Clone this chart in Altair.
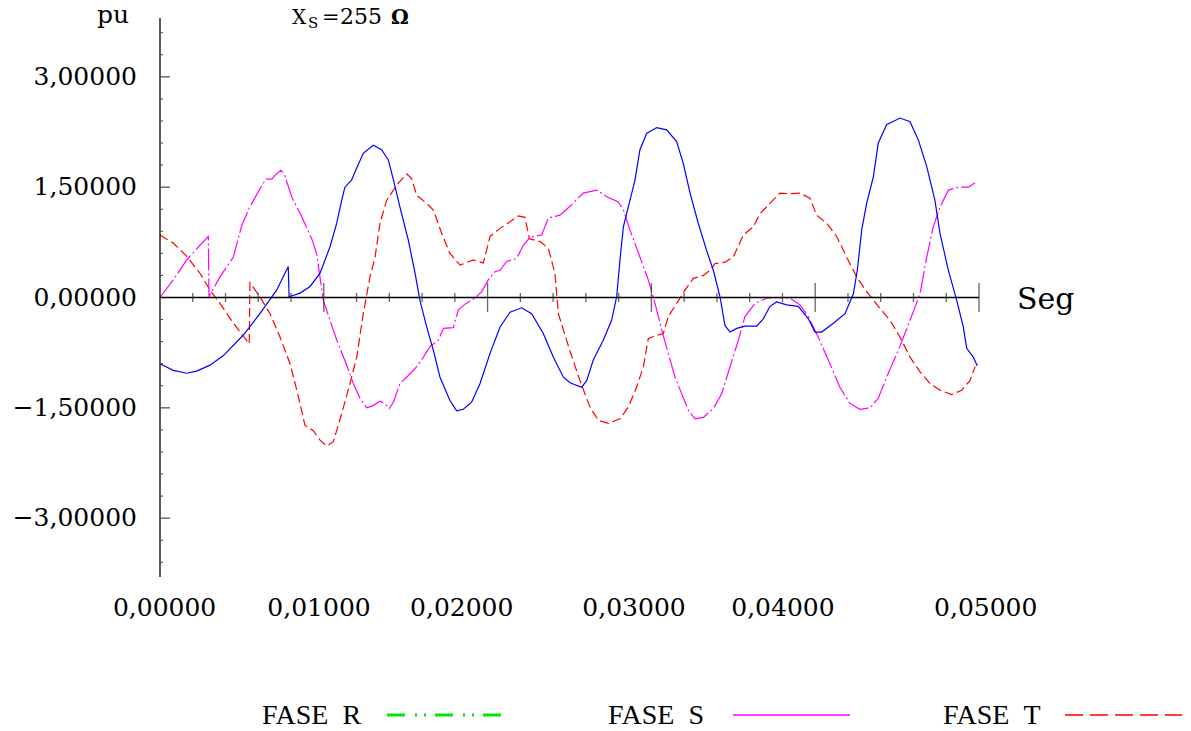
import altair as alt
import pandas as pd

# ---------------- data (time in ms as read, values in pu) ----------------
t_r_ms = [0, 0.81, 1.63, 2.24, 3.05, 3.87, 5.09, 6.10, 7.12, 7.83, 7.88, 8.55, 9.16, 9.77, 10.38,
          10.79, 11.09, 11.29, 11.70, 12.01, 12.41, 13.02, 13.53, 13.94, 14.25, 14.65, 15.16, 15.57,
          15.87, 16.28, 16.69, 17.09, 17.70, 18.11, 18.52, 19.03, 19.54, 20.15, 20.76, 21.37, 22.08,
          22.69, 23.40, 24.01, 24.62, 25.03, 25.74, 26.05, 26.45, 27.06, 27.57, 27.88, 28.08, 28.29,
          28.69, 29.00, 29.30, 29.71, 30.32, 30.93, 31.54, 31.95, 32.36, 32.86, 33.37, 33.78, 34.19,
          34.49, 34.80, 35.21, 35.71, 36.43, 36.83, 37.24, 37.65, 38.26, 38.97, 39.58, 39.99, 40.39,
          41.11, 41.82, 42.33, 42.57, 42.84, 43.14, 43.55, 43.85, 44.36, 45.18, 45.79, 46.30, 46.81,
          47.31, 47.62, 48.13, 48.64, 49.04, 49.25, 49.65, 49.90]
v_r = [-0.90, -0.99, -1.03, -1.00, -0.92, -0.79, -0.51, -0.22, 0.10, 0.42, 0.01, 0.06, 0.15, 0.33, 0.69,
       1.01, 1.32, 1.50, 1.60, 1.76, 1.96, 2.07, 2.01, 1.87, 1.60, 1.23, 0.78, 0.33,
       -0.04, -0.40, -0.72, -1.08, -1.40, -1.54, -1.52, -1.42, -1.17, -0.76, -0.40, -0.20, -0.14,
       -0.22, -0.49, -0.81, -1.08, -1.16, -1.22, -1.13, -0.85, -0.58, -0.31, 0.01, 0.51, 0.96,
       1.32, 1.60, 2.01, 2.23, 2.31, 2.28, 2.12, 1.82, 1.42, 1.01, 0.64, 0.37, 0.01,
       -0.38, -0.47, -0.42, -0.39, -0.39, -0.29, -0.12, -0.06, -0.10, -0.12, -0.29, -0.47, -0.47,
       -0.35, -0.22, 0.05, 0.37, 0.92, 1.28, 1.64, 2.10, 2.35, 2.44, 2.39, 2.14, 1.78,
       1.32, 0.87, 0.37, -0.04, -0.40, -0.69, -0.81, -0.93]

t_s_ms = [0, 0.81, 1.63, 2.44, 2.95, 2.99, 3.66, 4.48, 4.99, 5.49, 6.00, 6.47, 6.82, 7.02, 7.37, 7.57,
          8.04, 8.65, 9.26, 9.56, 9.97, 10.38, 10.79, 11.40, 11.80, 12.21, 12.62, 13.02, 13.43, 13.74,
          14.00, 14.25, 14.65, 15.16, 15.67, 16.08, 16.48, 16.99, 17.30, 17.91, 18.21, 18.62, 19.23,
          19.64, 20.04, 20.45, 20.76, 21.16, 21.77, 22.18, 22.59, 23.30, 23.71, 24.42, 25.03, 25.84,
          26.66, 27.27, 27.98, 28.29, 28.69, 29.30, 29.81, 30.22, 30.63, 31.03, 31.44, 31.85, 32.25,
          32.66, 33.17, 33.78, 34.29, 34.80, 35.31, 35.71, 36.33, 37.04, 37.65, 38.46, 39.07, 39.58,
          40.19, 40.80, 41.51, 42.12, 42.73, 43.35, 43.85, 44.46, 45.07, 45.79, 46.40, 46.81, 47.21,
          47.62, 48.13, 48.74, 49.35, 49.76]
v_s = [0, 0.24, 0.51, 0.71, 0.83, 0.01, 0.28, 0.55, 0.98, 1.23, 1.44, 1.61, 1.61, 1.66, 1.73, 1.69,
       1.37, 1.10, 0.80, 0.60, -0.04, -0.31, -0.58, -0.92, -1.17, -1.37, -1.50, -1.47, -1.41, -1.45,
       -1.51, -1.42, -1.17, -1.06, -0.94, -0.81, -0.67, -0.58, -0.42, -0.41, -0.17, -0.09, -0.01,
       0.08, 0.24, 0.35, 0.37, 0.49, 0.53, 0.71, 0.82, 0.85, 1.08, 1.12, 1.24, 1.42,
       1.46, 1.37, 1.30, 1.19, 0.92, 0.55, 0.24, -0.08, -0.44, -0.76, -1.08, -1.31, -1.53,
       -1.65, -1.63, -1.51, -1.31, -0.94, -0.58, -0.26, -0.08, -0.01, 0.00, -0.01, -0.10, -0.26,
       -0.54, -0.85, -1.22, -1.44, -1.52, -1.50, -1.37, -1.03, -0.72, -0.31, 0.05, 0.55, 0.96,
       1.23, 1.46, 1.50, 1.50, 1.56]

t_t_ms = [0, 0.81, 1.63, 2.44, 3.05, 3.66, 4.48, 5.45, 5.49, 6.10, 6.72, 7.33, 7.94, 8.45, 8.85, 9.36,
          9.77, 10.18, 10.58, 11.09, 11.60, 12.01, 12.41, 12.82, 13.13, 13.43, 13.84, 14.45, 15.06,
          15.36, 15.67, 16.28, 16.69, 17.20, 17.70, 18.32, 19.13, 19.74, 20.15, 20.76, 21.37, 21.88,
          22.28, 22.55, 23.20, 23.71, 24.11, 24.32, 25.03, 25.64, 26.25, 26.76, 27.37, 28.08, 28.59,
          29.10, 29.51, 29.81, 30.22, 30.73, 31.03, 31.54, 32.05, 32.56, 33.17, 33.58, 33.88, 34.49,
          35.00, 35.61, 36.22, 36.63, 37.24, 37.85, 38.46, 39.07, 39.68, 40.09, 40.70, 41.31, 41.92,
          42.53, 43.14, 43.96, 44.57, 45.18, 45.79, 46.40, 47.01, 47.62, 48.33, 48.94, 49.45, 49.76]
v_t = [0.85, 0.74, 0.56, 0.33, 0.10, -0.08, -0.35, -0.63, 0.20, 0.01, -0.22, -0.54, -0.90, -1.35, -1.74, -1.81,
       -1.94, -2.02, -1.96, -1.58, -1.17, -0.81, -0.22, 0.28, 0.55, 1.01, 1.32, 1.53, 1.68,
       1.62, 1.39, 1.28, 1.19, 0.87, 0.60, 0.44, 0.51, 0.47, 0.83, 0.94, 1.03, 1.11,
       1.09, 0.80, 0.76, 0.67, 0.33, -0.22, -0.73, -1.13, -1.49, -1.67, -1.71, -1.65, -1.49,
       -1.22, -0.94, -0.56, -0.52, -0.49, -0.26, -0.08, 0.10, 0.26, 0.30, 0.37, 0.46, 0.48,
       0.55, 0.85, 0.96, 1.14, 1.28, 1.42, 1.41, 1.42, 1.35, 1.12, 1.01, 0.83, 0.55,
       0.28, 0.08, -0.15, -0.31, -0.54, -0.81, -1.01, -1.17, -1.26, -1.32, -1.26, -1.13, -0.94]

# axis ticks and labels
x_major_ticks = [0.01, 0.02, 0.03, 0.04, 0.05]
x_minor_ticks = [0.002, 0.004, 0.006, 0.008, 0.012, 0.014, 0.016, 0.018, 0.022, 0.024, 0.026, 0.028,
                 0.032, 0.034, 0.036, 0.038, 0.042, 0.044, 0.046, 0.048]
x_label_text = ["0,00000", "0,01000", "0,02000", "0,03000", "0,04000", "0,05000"]
x_label_pos = [0.00028, 0.00971, 0.01842, 0.02894, 0.03803, 0.05041]   # as placed in the picture
y_major_ticks = [-3.0, -1.5, 1.5, 3.0]
y_minor_ticks = [-3.6, -3.3, -2.7, -2.4, -2.1, -1.8, -1.2, -0.9, -0.6, -0.3,
                 0.3, 0.6, 0.9, 1.2, 1.8, 2.1, 2.4, 2.7, 3.3, 3.6]
y_label_val = [3.0, 1.5, 0.0, -1.5, -3.0]
y_label_text = ["3,00000", "1,50000", "0,00000", "\u22121,50000", "\u22123,00000"]

assert len(t_r_ms) == len(v_r) and len(t_s_ms) == len(v_s) and len(t_t_ms) == len(v_t)

W, H = 819, 559
xs = alt.Scale(domain=[0, 0.05], nice=False, zero=False)
ys = alt.Scale(domain=[-3.8, 3.8], nice=False, zero=False)
SERIF = "DejaVu Serif"


def series(t_ms, v):
    return pd.DataFrame({"t": [x / 1000 for x in t_ms], "v": v, "i": list(range(len(v)))})


def X(f="t"):
    return alt.X(f + ":Q", scale=xs, axis=None)


def Y(f="v"):
    return alt.Y(f + ":Q", scale=ys, axis=None)


blue = alt.Chart(series(t_r_ms, v_r)).mark_line(color="#0000ff", strokeWidth=1.2).encode(
    x=X(), y=Y(), order="i:Q")
magenta = alt.Chart(series(t_s_ms, v_s)).mark_line(
    color="#ff00ff", strokeWidth=1.2, strokeDash=[22, 3, 2, 3]).encode(x=X(), y=Y(), order="i:Q")
red = alt.Chart(series(t_t_ms, v_t)).mark_line(
    color="#ff0000", strokeWidth=1.2, strokeDash=[9, 4]).encode(x=X(), y=Y(), order="i:Q")

one = pd.DataFrame({"v": [0.0]})
y_axis = alt.Chart(one).mark_rule(color="black", strokeWidth=1.3).encode(
    x=alt.value(0), y=alt.value(0), y2=alt.value(H))
x_axis = alt.Chart(one).mark_rule(color="black", strokeWidth=1.6).encode(
    x=alt.value(0), x2=alt.value(W), y=Y())

xmaj = alt.Chart(pd.DataFrame({"t": x_major_ticks, "v": [0.0] * len(x_major_ticks)})).mark_tick(
    orient="vertical", size=29, thickness=1.3, color="#222").encode(x=X(), y=Y())
xmin = alt.Chart(pd.DataFrame({"t": x_minor_ticks, "v": [0.0] * len(x_minor_ticks)})).mark_tick(
    orient="vertical", size=9, thickness=1.3, color="#222").encode(x=X(), y=Y())
ymaj = alt.Chart(pd.DataFrame({"v": y_major_ticks})).mark_rule(color="#555", strokeWidth=1.3).encode(
    x=alt.value(0), x2=alt.value(10), y=Y())
ymin = alt.Chart(pd.DataFrame({"v": y_minor_ticks})).mark_rule(color="#444", strokeWidth=1).encode(
    x=alt.value(0), x2=alt.value(3), y=Y())

ylab = alt.Chart(pd.DataFrame({"v": y_label_val, "s": y_label_text})).mark_text(
    font=SERIF, fontSize=25, align="right", baseline="middle", color="black").encode(
    x=alt.value(-23), y=Y(), text="s:N")
xlab = alt.Chart(pd.DataFrame({"t": x_label_pos, "s": x_label_text})).mark_text(
    font=SERIF, fontSize=25, align="center", baseline="middle", color="black").encode(
    x=X(), y=alt.value(590), text="s:N")


def label(txt, x, y, size, font=SERIF, weight="normal", align="left", baseline="alphabetic"):
    return alt.Chart(pd.DataFrame({"s": [txt]})).mark_text(
        font=font, fontSize=size, fontWeight=weight, align=align, baseline=baseline,
        color="black").encode(x=alt.value(x), y=alt.value(y), text="s:N")


pu = label("pu", -47, 5, 25, align="center")
seg = label("Seg", 857, 291, 30)
t1 = label("X", 132, 6, 20)
t2 = label("S", 148, 10, 15)
t3a = label("=", 162, 6, 21)
t3b = label("255", 180, 6, 22)
t4 = label("\u03a9", 231, 6, 20, weight="bold")

LEG = "Liberation Serif"
leg_r = label("FASE\u2002R", 102, 706, 28, font=LEG)
leg_s = label("FASE\u2002S", 448, 706, 28, font=LEG)
leg_t = label("FASE\u2002T", 783, 706, 28, font=LEG)
line_r = alt.Chart(one).mark_rule(color="#00e600", strokeWidth=3, strokeDash=[18, 10, 2, 7, 2, 9]).encode(
    x=alt.value(227), x2=alt.value(345), y=alt.value(697))
line_s = alt.Chart(one).mark_rule(color="#ff00ff", strokeWidth=1.5).encode(
    x=alt.value(573), x2=alt.value(690), y=alt.value(697))
line_t = alt.Chart(one).mark_rule(color="#ff0000", strokeWidth=1.5, strokeDash=[18, 7]).encode(
    x=alt.value(905), x2=alt.value(1022), y=alt.value(697))

chart = alt.layer(
    red, magenta, blue,
    x_axis, y_axis, xmaj, xmin, ymaj, ymin, ylab, xlab,
    pu, seg, t1, t2, t3a, t3b, t4,
    leg_r, leg_s, leg_t, line_r, line_s, line_t,
).properties(
    width=W, height=H,
    autosize=alt.AutoSizeParams(type="none"),
    padding={"left": 152, "top": 10, "right": 204, "bottom": 160},
).configure_view(stroke=None)

chart.save("out.html", embed_options={"renderer": "svg", "actions": False})
